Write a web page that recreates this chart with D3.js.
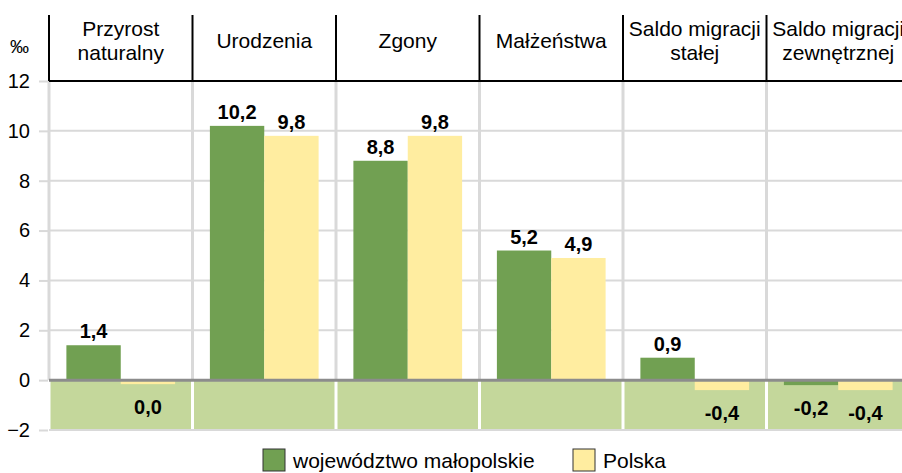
<!DOCTYPE html>
<html>
<head>
<meta charset="utf-8">
<script src="https://cdn.jsdelivr.net/npm/d3@7"></script>
<style>
  body { margin: 0; background: #fff; }
  svg { display: block; font-family: "Liberation Sans", Arial, sans-serif; }
</style>
</head>
<body>
<div id="chart"></div>
<script>
const categories = ['Przyrost naturalny', 'Urodzenia', 'Zgony', 'Małżeństwa', 'Saldo migracji stałej', 'Saldo migracji zewnętrznej'];
const categoryLines = [['Przyrost', 'naturalny'], ['Urodzenia'], ['Zgony'], ['Małżeństwa'], ['Saldo migracji', 'stałej'], ['Saldo migracji', 'zewnętrznej']];
const seriesNames = ['województwo małopolskie', 'Polska'];
const malopolskie = [1.4, 10.2, 8.8, 5.2, 0.9, -0.2];
const polska = [-0.04, 9.8, 9.8, 4.9, -0.4, -0.4];
const yTicks = [-2, 0, 2, 4, 6, 8, 10, 12];

const colors = { 'województwo małopolskie': '#71a052', 'Polska': '#ffeda0' };
const width = 902, height = 473;
const margin = { left: 49, right: -8, top: 81, bottom: 43 };

const plf = d3.formatLocale({ decimal: ',', thousands: ' ', grouping: [3], currency: ['', ' zł'], minus: '-' });
const fmt = plf.format('.1f');

const data = categories.map((c, i) => ({ cat: c, values: [
  { key: seriesNames[0], value: malopolskie[i] },
  { key: seriesNames[1], value: polska[i] }
]}));

const svg = d3.select('#chart').append('svg')
  .attr('width', width)
  .attr('height', height);

const x = d3.scaleBand()
  .domain(categories)
  .range([margin.left, width - margin.right])
  .padding(0);
const xInner = d3.scaleBand()
  .domain(seriesNames)
  .range([0, x.bandwidth()])
  .paddingInner(0)
  .paddingOuter(0.32);
const y = d3.scaleLinear()
  .domain([-2, 12])
  .range([height - margin.bottom, margin.top]);

const x0 = margin.left, x1 = width - margin.right;

// negative area background
svg.append('rect')
  .attr('x', x0).attr('y', y(0))
  .attr('width', x1 - x0).attr('height', y(-2) - y(0))
  .attr('fill', '#c4d79b');

// horizontal gridlines
svg.append('g')
  .selectAll('line')
  .data(yTicks.filter(d => d !== 0 && d !== 12))
  .join('line')
  .attr('x1', x0).attr('x2', x1)
  .attr('y1', d => y(d)).attr('y2', d => y(d))
  .attr('stroke', '#d9d9d9').attr('stroke-width', 2);

// vertical separators
const bounds = categories.map(c => x(c));
svg.append('g')
  .selectAll('line')
  .data(bounds)
  .join('line')
  .attr('x1', d => d).attr('x2', d => d)
  .attr('y1', y(12)).attr('y2', y(0))
  .attr('stroke', '#d9d9d9').attr('stroke-width', 3);
svg.append('g')
  .selectAll('line')
  .data(bounds)
  .join('line')
  .attr('x1', d => d).attr('x2', d => d)
  .attr('y1', y(0)).attr('y2', y(-2))
  .attr('stroke', '#fff').attr('stroke-width', 3);

// y axis
const yAxis = d3.axisLeft(y).tickValues(yTicks).tickSize(9).tickPadding(9).tickFormat(d3.format('d'));
const ga = svg.append('g')
  .attr('transform', `translate(${x0 - 1},0)`)
  .call(yAxis);
ga.select('.domain').remove();
ga.selectAll('.tick line').attr('stroke', '#d9d9d9').attr('stroke-width', 2);
ga.selectAll('.tick text').attr('font-size', 20).attr('fill', '#000')
  .attr('font-family', '"Liberation Sans", Arial, sans-serif');

// bars
const groups = svg.append('g')
  .selectAll('g')
  .data(data)
  .join('g')
  .attr('transform', d => `translate(${x(d.cat)},0)`);

groups.selectAll('rect')
  .data(d => d.values)
  .join('rect')
  .attr('x', d => xInner(d.key))
  .attr('width', xInner.bandwidth())
  .attr('y', d => d.value >= 0 ? y(d.value) : y(0))
  .attr('height', d => Math.max(Math.abs(y(d.value) - y(0)), 4))
  .attr('fill', d => colors[d.key]);

groups.selectAll('text')
  .data(d => d.values)
  .join('text')
  .attr('x', d => xInner(d.key) + xInner.bandwidth() / 2)
  .attr('y', d => d.value >= 0 ? y(d.value) - 7 : Math.max(y(d.value), y(0) + 4) + 30)
  .attr('text-anchor', 'middle')
  .attr('font-size', 20)
  .attr('font-weight', 'bold')
  .text(d => fmt(d.value));

// zero line
svg.append('line')
  .attr('x1', x0).attr('x2', x1)
  .attr('y1', y(0)).attr('y2', y(0))
  .attr('stroke', '#8c8c8c').attr('stroke-width', 3);
svg.append('line')
  .attr('x1', x0).attr('x2', x1)
  .attr('y1', y(-2)).attr('y2', y(-2))
  .attr('stroke', '#d9d9d9').attr('stroke-width', 2);

// header
svg.append('line')
  .attr('x1', x0).attr('x2', x1)
  .attr('y1', y(12)).attr('y2', y(12))
  .attr('stroke', '#000').attr('stroke-width', 2);
svg.append('g')
  .selectAll('line')
  .data(bounds)
  .join('line')
  .attr('x1', d => d).attr('x2', d => d)
  .attr('y1', 15).attr('y2', y(12))
  .attr('stroke', '#000').attr('stroke-width', 2);

const headers = svg.append('g')
  .selectAll('text')
  .data(categories)
  .join('text')
  .attr('text-anchor', 'middle')
  .attr('font-size', 21)
  .attr('fill', '#000');
headers.each(function(c, i) {
  const lines = categoryLines[i];
  const t = d3.select(this);
  const cx = x(c) + x.bandwidth() / 2;
  const start = lines.length === 1 ? 48 : 36;
  lines.forEach((l, j) => {
    t.append('tspan').attr('x', cx).attr('y', start + j * 24).text(l);
  });
});

svg.append('text')
  .attr('x', 10).attr('y', 53)
  .attr('font-size', 19)
  .text('‰');

// legend
const legend = svg.append('g')
  .selectAll('g')
  .data(seriesNames)
  .join('g')
  .attr('transform', (d, i) => `translate(${i === 0 ? 263 : 573},449)`);
legend.append('rect')
  .attr('width', 22).attr('height', 22)
  .attr('fill', d => colors[d])
  .attr('stroke', '#333').attr('stroke-width', 1);
legend.append('text')
  .attr('x', 30).attr('y', 19)
  .attr('font-size', 21)
  .text(d => d);
</script>
</body>
</html>
